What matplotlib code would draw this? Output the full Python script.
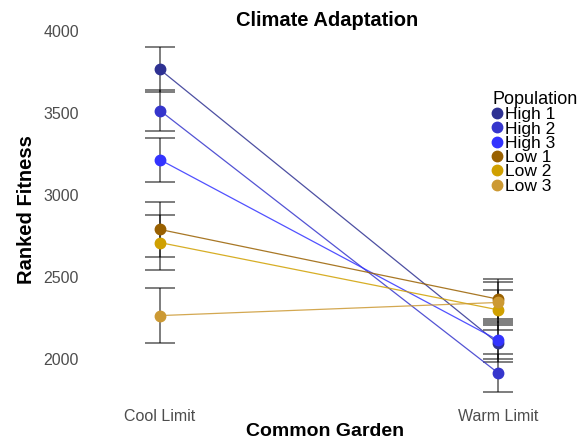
import matplotlib
matplotlib.use('Agg')
import matplotlib.pyplot as plt

# reaction norm of ranked fitness across the two common gardens
gardens = ['Cool Limit', 'Warm Limit']
populations = ['High 1', 'High 2', 'High 3', 'Low 1', 'Low 2', 'Low 3']
colors = ['#2e3192', '#3535cc', '#3333ff', '#996000', '#d0a000', '#cc9933']

cool_mean = [3765, 3515, 3215, 2790, 2710, 2265]
cool_se = [135, 125, 135, 170, 170, 170]
warm_mean = [2095, 1915, 2115, 2365, 2300, 2345]
warm_se = [115, 115, 115, 120, 120, 125]

plt.rcParams['font.family'] = ['Liberation Sans', 'DejaVu Sans']

fig = plt.figure(figsize=(5.84, 4.44), dpi=100)
ax = fig.add_axes([0.154, 0.11, 0.805, 0.834])

xs = [1, 2]
for i, pop in enumerate(populations):
    means = [cool_mean[i], warm_mean[i]]
    ses = [cool_se[i], warm_se[i]]
    ax.errorbar(xs, means, yerr=ses, fmt='none', ecolor='black', alpha=0.55,
                elinewidth=1.3, capsize=11, capthick=1.3, zorder=1)
    ax.plot(xs, means, color=colors[i], lw=0.9, alpha=0.85, zorder=2)
    ax.plot(xs, means, 'o', color=colors[i], ms=7.5, zorder=3, label=pop)

ax.set_xlim(0.793, 2.183)
ax.set_ylim(1780, 4037)
ax.set_xticks(xs)
ax.set_xticklabels(gardens)
ax.set_yticks([2000, 2500, 3000, 3500, 4000])
ax.tick_params(length=0, labelsize=11.5, labelcolor='#4d4d4d')
ax.tick_params(axis='x', pad=10)
ax.tick_params(axis='y', pad=8)
for s in ax.spines.values():
    s.set_visible(False)

ax.set_xlabel('Common Garden', fontsize=14, fontweight='bold', labelpad=-1)
ax.set_ylabel('Ranked Fitness', fontsize=14.5, fontweight='bold', labelpad=5)
fig.suptitle('Climate Adaptation', fontsize=14.5, fontweight='bold', x=0.561, y=0.975)

leg = ax.legend(loc='upper left', bbox_to_anchor=(492 / 584, 1 - 91 / 444),
                bbox_transform=fig.transFigure, frameon=False, title='Population',
                fontsize=12.5, title_fontsize=13, labelspacing=-0.05, handlelength=0.6,
                handletextpad=0.15, borderpad=0, borderaxespad=0, alignment='left')

plt.savefig('out.png', dpi=100)
